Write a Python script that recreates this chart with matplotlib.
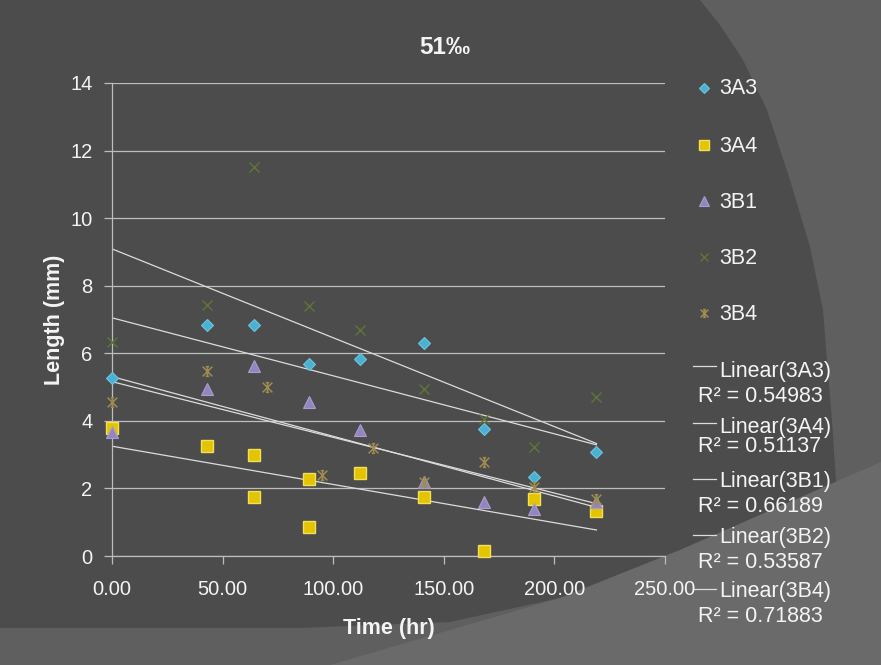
import matplotlib
matplotlib.use("Agg")
import matplotlib.pyplot as plt
from matplotlib.path import Path
from matplotlib.patches import Polygon
from matplotlib.lines import Line2D

plt.rcParams["font.family"] = ["Liberation Sans", "DejaVu Sans"]

# measurements (hours, mm)
time_std = [0, 43, 64, 89, 112, 141, 168, 191, 219]
time_3A4 = [0, 43, 64, 64, 89, 89, 112, 141, 168, 191, 219]
time_3B4 = [0, 43, 70, 95, 118, 141, 168, 191, 219]

len_3A3 = [5.27, 6.84, 6.84, 5.68, 5.83, 6.30, 3.76, 2.34, 3.08]
len_3A4 = [3.78, 3.26, 2.98, 1.76, 2.29, 0.86, 2.45, 1.75, 0.15, 1.70, 1.32]
len_3B1 = [3.68, 4.95, 5.62, 4.56, 3.73, 2.20, 1.59, 1.40, 1.60]
len_3B2 = [6.32, 7.43, 11.50, 7.40, 6.69, 4.93, 4.05, 3.22, 4.70]
len_3B4 = [4.57, 5.48, 4.99, 2.40, 3.19, 2.20, 2.79, 2.05, 1.68]

series_names = ["3A3", "3A4", "3B1", "3B2", "3B4"]

# linear trend lines: value at first and last time point
trend_start = [7.05, 3.25, 5.31, 9.09, 5.16]
trend_end = [3.29, 0.77, 1.44, 3.33, 1.55]
r_squared = ["0.54983", "0.51137", "0.66189", "0.53587", "0.71883"]

x_ticks = [0, 50, 100, 150, 200, 250]
y_ticks = [0, 2, 4, 6, 8, 10, 12, 14]

W, H = 881, 665
TXT = "#f4f4f4"
GRID = "#bdbdbd"

# star marker: an x crossed by a vertical bar with small caps
star_path = Path(
    [(-1, -1), (1, 1), (-1, 1), (1, -1), (0, -1), (0, 1),
     (-0.35, 1), (0.35, 1), (-0.35, -1), (0.35, -1)],
    [Path.MOVETO, Path.LINETO] * 5,
)

styles = [
    dict(marker="D", ms=6.5, mfc="#4bb0d2", mec="#6cc4e0", mew=0.8, ls="none"),
    dict(marker="s", ms=8.5, mfc="#e3c400", mec="#f3df5a", mew=1.0, ls="none"),
    dict(marker="^", ms=8.5, mfc="#9485c0", mec="#a99dd0", mew=0.8, ls="none"),
    dict(marker="x", ms=6.5, mec="#5f7536", mew=1.0, ls="none"),
    dict(marker=star_path, ms=7, mec="#a08c50", mfc="none", mew=1.1, ls="none"),
]

fig = plt.figure(figsize=(W / 100, H / 100), dpi=100)
fig.patch.set_facecolor("#5e5f5e")

# background shapes of the slide, in pixel coordinates
bg = fig.add_axes([0, 0, 1, 1])
bg.set_xlim(0, W)
bg.set_ylim(H, 0)
bg.axis("off")
bg.set_zorder(0)

dark = [(0, 0), (700, 0), (720, 25), (743, 60), (767, 110), (790, 180),
        (810, 247), (823, 310), (827, 360), (832, 420), (836, 482),
        (680, 550), (560, 598), (450, 622), (300, 628), (0, 628)]
bg.add_patch(Polygon(dark, closed=True, fc="#4b4c4b", ec="none"))
light = [(881, 462), (680, 550), (560, 598), (450, 630), (330, 665), (881, 665)]
bg.add_patch(Polygon(light, closed=True, fc="#6a6a6a", ec="none"))

ax = fig.add_axes([112 / W, 1 - 556 / H, (665 - 112) / W, (556 - 83) / H])
ax.set_zorder(1)
ax.patch.set_alpha(0)

xs = [time_std, time_3A4, time_std, time_std, time_3B4]
ys = [len_3A3, len_3A4, len_3B1, len_3B2, len_3B4]
for t, v, st in zip(xs, ys, styles):
    ax.plot(t, v, clip_on=False, zorder=3, **st)

for t, a, b in zip(xs, trend_start, trend_end):
    ax.plot([min(t), max(t)], [a, b], color="#dcdcdc", lw=0.9, zorder=2)

ax.set_xlim(0, 250)
ax.set_ylim(0, 14)
ax.set_xticks(x_ticks)
ax.set_xticklabels([f"{v:.2f}" for v in x_ticks])
ax.set_yticks(y_ticks)
ax.grid(axis="y", color=GRID, lw=0.9)
ax.set_axisbelow(True)
for side in ["top", "right"]:
    ax.spines[side].set_visible(False)
for side in ["left", "bottom"]:
    ax.spines[side].set_color(GRID)
    ax.spines[side].set_linewidth(0.9)
ax.tick_params(colors=GRID, labelcolor=TXT, labelsize=14.5, length=6, width=0.9)
ax.tick_params(axis="y", pad=8)
ax.tick_params(axis="x", pad=11)

ax.set_xlabel("Time (hr)", color=TXT, fontsize=15.5, fontweight="bold", labelpad=14)
ax.set_ylabel("Length (mm)", color=TXT, fontsize=15.5, fontweight="bold", labelpad=4)
fig.text(445 / W, 1 - 48 / H, "51\u2030", color=TXT, fontsize=17.5,
         fontweight="bold", ha="center", va="center")

# legend drawn on the background axes (pixel coordinates)
marker_rows = [88, 145, 201, 257, 313]
for name, st, y in zip(series_names, styles, marker_rows):
    bg.plot([704], [y], **{**st, "ms": st["ms"] * 0.8})
    bg.text(719, y + 1, name, color=TXT, fontsize=15.5, va="center", ha="left")

line_rows = [366, 423, 479, 535, 589]
name_rows = [371, 427, 482, 538, 592]
r2_rows = [397, 447, 506, 562, 616]
for name, r2, yl, yn, yr in zip(series_names, r_squared, line_rows, name_rows, r2_rows):
    bg.add_line(Line2D([693, 716], [yl, yl], color="#dcdcdc", lw=0.9))
    bg.text(719, yn, f"Linear({name})", color=TXT, fontsize=15.5, va="center", ha="left")
    bg.text(698, yr, f"R\u00b2 = {r2}", color=TXT, fontsize=15.5, va="center", ha="left")

fig.savefig("out.png", dpi=100, facecolor=fig.get_facecolor())
